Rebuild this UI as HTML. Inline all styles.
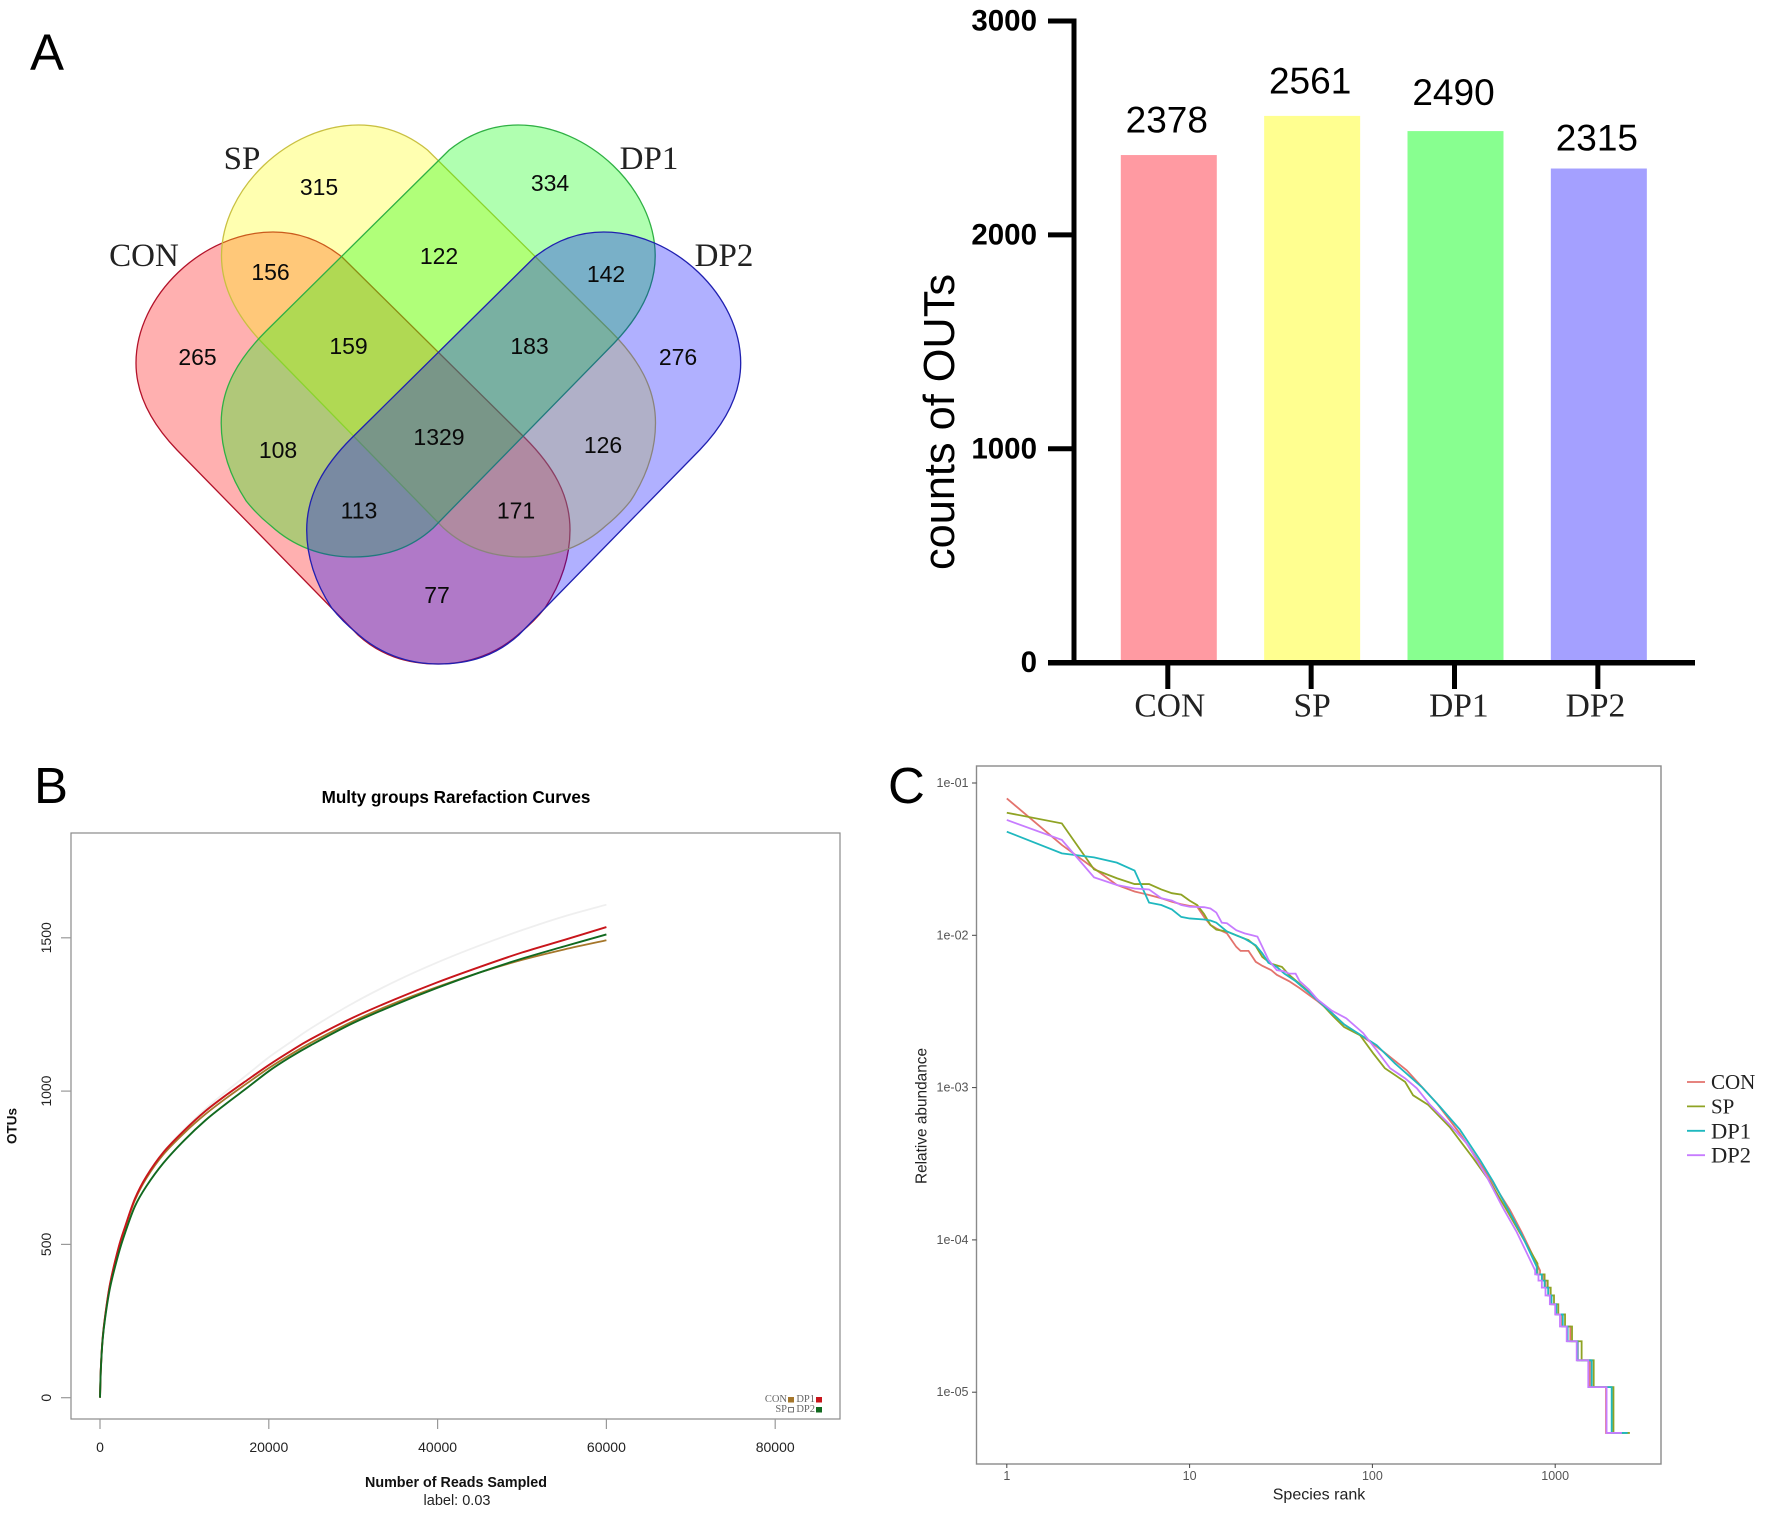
<!DOCTYPE html>
<html>
<head>
<meta charset="utf-8">
<title>OTU figure</title>
<style>
html,body{margin:0;padding:0;background:#fff;}
svg{display:block;}
text{font-family:"Liberation Sans",sans-serif;fill:#000;}
.serif{font-family:"Liberation Serif",serif;}
.venn-num{font-size:23px;text-anchor:middle;dominant-baseline:central;fill:#0a0a0a;}
.venn-set{font-family:"Liberation Serif",serif;font-size:33px;text-anchor:middle;dominant-baseline:central;fill:#222;}
.panel{font-size:51px;}
</style>
</head>
<body>
<svg id="fig" xmlns="http://www.w3.org/2000/svg" width="1772" height="1514" viewBox="0 0 1772 1514">
  <rect x="0" y="0" width="1772" height="1514" fill="#fff"/>

  <text class="panel" x="30" y="70">A</text>
  <text class="panel" x="34" y="803">B</text>
  <text class="panel" x="888" y="803">C</text>

  <g>
    <path fill="#ff0000" fill-opacity="0.31" stroke="#b3122a" stroke-width="1.3" d="M177,450 C153,425 136,396 136,363 C136,296 203,232 273,232 C300,232 322,241 342,257 L525,438 C553,466 570,495 570,530 C570,558 560,585 545,608 C537,618 530,625 520,633 C498,653 470,664 438,664 C406,664 380,655 358,635 Z"/>
    <path transform="translate(85.5,-107)" fill="#ffff00" fill-opacity="0.31" stroke="#c9c042" stroke-width="1.3" d="M177,450 C153,425 136,396 136,363 C136,296 203,232 273,232 C300,232 322,241 342,257 L525,438 C553,466 570,495 570,530 C570,558 560,585 545,608 C537,618 530,625 520,633 C498,653 470,664 438,664 C406,664 380,655 358,635 Z"/>
    <path transform="matrix(-1 0 0 1 791.2 -107)" fill="#00ff00" fill-opacity="0.31" stroke="#2fb044" stroke-width="1.3" d="M177,450 C153,425 136,396 136,363 C136,296 203,232 273,232 C300,232 322,241 342,257 L525,438 C553,466 570,495 570,530 C570,558 560,585 545,608 C537,618 530,625 520,633 C498,653 470,664 438,664 C406,664 380,655 358,635 Z"/>
    <path transform="matrix(-1 0 0 1 876.7 0)" fill="#0000ff" fill-opacity="0.31" stroke="#2020b0" stroke-width="1.3" d="M177,450 C153,425 136,396 136,363 C136,296 203,232 273,232 C300,232 322,241 342,257 L525,438 C553,466 570,495 570,530 C570,558 560,585 545,608 C537,618 530,625 520,633 C498,653 470,664 438,664 C406,664 380,655 358,635 Z"/>
    <text class="venn-set" x="242" y="159">SP</text>
    <text class="venn-set" x="649" y="159">DP1</text>
    <text class="venn-set" x="144" y="256">CON</text>
    <text class="venn-set" x="724" y="256">DP2</text>
    <text class="venn-num" x="319" y="187">315</text>
    <text class="venn-num" x="550" y="183">334</text>
    <text class="venn-num" x="270.5" y="272">156</text>
    <text class="venn-num" x="439" y="256">122</text>
    <text class="venn-num" x="606" y="274">142</text>
    <text class="venn-num" x="197.5" y="357">265</text>
    <text class="venn-num" x="348.5" y="346">159</text>
    <text class="venn-num" x="529.5" y="346">183</text>
    <text class="venn-num" x="678" y="357">276</text>
    <text class="venn-num" x="278" y="450">108</text>
    <text class="venn-num" x="439" y="437">1329</text>
    <text class="venn-num" x="603" y="445">126</text>
    <text class="venn-num" x="359" y="510.5">113</text>
    <text class="venn-num" x="516" y="510.5">171</text>
    <text class="venn-num" x="437" y="595">77</text>
  </g>

  <g id="bar-chart"></g>
  <g id="rare-chart"></g>
  <g id="rank-chart"></g>
</svg>

<script>
// ---------- Bar chart data ----------
const barCategories = ['CON', 'SP', 'DP1', 'DP2'];
const barValues = [2378, 2561, 2490, 2315];
const barTicks = [0, 1000, 2000, 3000];
const barColors = ['#ff9aa2', '#ffff90', '#88ff90', '#a4a0ff'];

// ---------- Rarefaction data ----------
const rareReads = [0, 100, 300, 600, 1200, 2200, 3000, 4150, 5500, 7500, 10000, 12500, 15000, 17500, 20000, 22500, 25000, 30000, 35000, 40000, 45000, 50000, 55000, 60000];
const rareSP = [0, 95, 190, 265, 373, 490, 560, 650, 723, 802, 876, 942, 1000, 1055, 1110, 1158, 1205, 1287, 1358, 1420, 1475, 1525, 1570, 1608];
const rareCON = [0, 94, 188, 263, 370, 487, 557, 645, 716, 793, 864, 925, 978, 1027, 1075, 1118, 1158, 1228, 1288, 1340, 1387, 1428, 1462, 1492];
const rareDP1 = [0, 95, 190, 265, 373, 490, 560, 650, 722, 800, 872, 935, 988, 1037, 1085, 1129, 1170, 1240, 1300, 1355, 1405, 1452, 1493, 1535];
const rareDP2 = [0, 92, 185, 258, 360, 470, 540, 625, 690, 765, 840, 905, 960, 1012, 1065, 1110, 1150, 1222, 1282, 1337, 1387, 1432, 1472, 1511];
const rareXTicks = [0, 20000, 40000, 60000, 80000];
const rareYTicks = [0, 500, 1000, 1500];

// ---------- Rank abundance data ----------
const rankXTicks = [1, 10, 100, 1000];
const rankYTicks = [1e-1, 1e-2, 1e-3, 1e-4, 1e-5];
const rankYLabels = ['1e-01', '1e-02', '1e-03', '1e-04', '1e-05'];

const conRanks = [1,2,3,4,5,6,7,8,9,10,11,12,13,14,16,18,19,21,23,25,28,30,35,40,50,60,70,100,115,154,225,301,422,566,656,826];
const conValues = [.0792,.0392,.0275,.0214,.0194,.0184,.0175,.0166,.0160,.0156,.0154,.0132,.0117,.0111,.0103,.0084,.0079,.0079,.0067,.0063,.0059,.0055,.0050,.0045,.0037,.0031,.0026,.00195,.00172,.0013,.00079,.0005,.000274,.000157,.000112,.000063];
const conStepRanks = [855, 885, 918, 950, 1010, 1090, 1210, 1330, 1549, 1897, 2378];

const spRanks = [1,2,3,4,5,6,7,8,9,10,11,12,13,14,16,18,20,21,23,25,28,32,35,40,50,60,70,85.5,101,117,151,167,202,265,356,440,543,656,800];
const spValues = [.0638,.0543,.0271,.0237,.0217,.0217,.0200,.0189,.0185,.0169,.0158,.0138,.0117,.0109,.0106,.0100,.0095,.0093,.0085,.0072,.0065,.0062,.0055,.0048,.0038,.0030,.0025,.00221,.00168,.00134,.00109,.00089,.00077,.00055,.000344,.000241,.000157,.000106,.00007];
const spStepRanks = [875, 910, 945, 985, 1040, 1132, 1236, 1395, 1624, 2083, 2561];

const dp1Ranks = [1,2,3,4,5,6,7,8,9,10,12,13,14,16,18,20,23,25,27,30,33,38,45,55,70,105.5,133,186,234,301,388,458,543,656,792];
const dp1Values = [.0479,.0345,.0325,.0300,.0266,.0164,.0158,.0148,.0132,.0129,.0127,.0125,.0121,.0106,.0100,.0095,.0086,.0076,.0066,.0062,.0056,.0050,.0042,.0034,.0026,.0019,.00144,.00101,.00075,.00053,.000335,.000241,.000165,.000108,.0000667];
const dp1StepRanks = [845, 875, 915, 955, 1015, 1100, 1170, 1325, 1584, 2037, 2490];

const dp2Ranks = [1,2,3,4,5,6,7,8,9,10,12,13,14,15,16,18,20,22,23.5,25,27,30,33,35,38,40,45,50,60,72,89,105,125,151,175,207,265,328,422,520,615,777];
const dp2Values = [.0572,.0423,.0240,.0214,.0203,.0200,.0175,.0169,.0158,.0154,.0153,.0150,.0141,.0121,.0120,.0108,.0103,.0100,.0098,.0084,.0069,.0059,.0058,.0056,.0056,.0050,.0044,.0038,.0032,.00285,.00228,.00177,.00134,.00115,.00099,.00077,.00057,.00043,.00026,.000161,.000113,.000063];
const dp2StepRanks = [810, 845, 885, 935, 1000, 1062, 1156, 1311, 1517, 1910, 2315];

const stepCounts = [11, 10, 9, 8, 7, 6, 5, 4, 3, 2, 1];
const singletonAbundance = 5.4e-6;

// ---------- helpers ----------
const NS = 'http://www.w3.org/2000/svg';
function make(parent, tag, props, txt) {
  const n = document.createElementNS(NS, tag);
  for (const k in props) n.setAttribute(k, props[k]);
  if (txt !== undefined) n.textContent = txt;
  parent.appendChild(n);
  return n;
}
function linePath(xs, ys, fx, fy) {
  return xs.map((v, i) => (i ? 'L' : 'M') + fx(v).toFixed(2) + ',' + fy(ys[i]).toFixed(2)).join(' ');
}
function smoothPath(xs, ys, fx, fy) {
  const p = xs.map((v, i) => [fx(v), fy(ys[i])]);
  let d = 'M' + p[0][0].toFixed(2) + ',' + p[0][1].toFixed(2);
  for (let i = 0; i < p.length - 1; i++) {
    const a = p[Math.max(i - 1, 0)], b = p[i], c = p[i + 1], e = p[Math.min(i + 2, p.length - 1)];
    const c1x = b[0] + (c[0] - a[0]) / 6, c1y = b[1] + (c[1] - a[1]) / 6;
    const c2x = c[0] - (e[0] - b[0]) / 6, c2y = c[1] - (e[1] - b[1]) / 6;
    d += ' C' + c1x.toFixed(2) + ',' + c1y.toFixed(2) + ' ' + c2x.toFixed(2) + ',' + c2y.toFixed(2) + ' ' + c[0].toFixed(2) + ',' + c[1].toFixed(2);
  }
  return d;
}

// ---------- Bar chart ----------
(function () {
  const g = document.getElementById('bar-chart');
  const y0 = 662.7, yTop = 21, yMax = 3000;
  const yScale = v => y0 - v * (y0 - yTop) / yMax;
  const bandStart = 1120.8, bandStep = 143.35, barW = 96;
  const xCenter = i => bandStart + i * bandStep + barW / 2;
  const labelNudgeY = {CON: 0, SP: 0, DP1: -3.4, DP2: 4.5};
  const catNudgeX = {CON: 1, SP: 0, DP1: 3.4, DP2: -3.4};

  barCategories.forEach((c, i) => {
    const top = yScale(barValues[i]);
    const bar = make(g, 'rect', {x: xCenter(i) - barW / 2, y: top + 1, width: barW, height: y0 - top - 1, fill: barColors[i]});
    
    
    const val = make(g, 'text', {x: xCenter(i) - 2, y: top - 34 + labelNudgeY[c], 'text-anchor': 'middle', 'dominant-baseline': 'central', 'font-size': 37}, barValues[i]);
    
    
    const tick = make(g, 'line', {x1: xCenter(i) - 1, x2: xCenter(i) - 1, y1: y0, y2: 689, stroke: '#000', 'stroke-width': 5});
    
    
    const lab = make(g, 'text', {x: xCenter(i) + catNudgeX[c], y: 706, 'text-anchor': 'middle', 'dominant-baseline': 'central', 'font-size': 33.5, 'class': 'serif', style: 'fill:#222'}, c);
    
    
  });

  barTicks.forEach(t => {
    const tick = make(g, 'line', {x1: 1048, x2: 1074, y1: yScale(t), y2: yScale(t), stroke: '#000', 'stroke-width': 5});
    
    
    const lab = make(g, 'text', {x: 1037, y: yScale(t), 'text-anchor': 'end', 'dominant-baseline': 'central', 'font-size': 29.5, 'font-weight': 'bold'}, t);
    
    
  });

  const yAxis = make(g, 'line', {x1: 1074, x2: 1074, y1: yTop - 2.5, y2: y0 + 2.5, stroke: '#000', 'stroke-width': 5});
  
  
  const xAxis = make(g, 'line', {x1: 1048, x2: 1695, y1: y0, y2: y0, stroke: '#000', 'stroke-width': 5.5});
  
  
  const title = make(g, 'text', {x: 0, y: 0, transform: 'translate(940,422) rotate(-90)', 'text-anchor': 'middle', 'dominant-baseline': 'central', 'font-size': 43.3}, 'counts of OUTs');
  
  
})();

// ---------- Rarefaction chart ----------
(function () {
  const g = document.getElementById('rare-chart');
  const x = v => 100 + v * 168.8 / 20000;
  const y = v => 1397.7 - v * 153.3 / 500;

  const t = make(g, 'text', {x: 456, y: 797.5, 'text-anchor': 'middle', 'dominant-baseline': 'central', 'font-size': 17.1, 'font-weight': 'bold', fill: '#111'}, 'Multy groups Rarefaction Curves');
  
  

  const frame = make(g, 'rect', {x: 71, y: 833, width: 769, height: 586, fill: 'none', stroke: '#8a8a8a', 'stroke-width': 1.2});
  
  

  rareXTicks.forEach(v => {
    const tk = make(g, 'line', {x1: x(v), x2: x(v), y1: 1419, y2: 1429, stroke: '#999', 'stroke-width': 1.2});
    
    
    const lb = make(g, 'text', {x: x(v), y: 1447, 'text-anchor': 'middle', 'dominant-baseline': 'central', 'font-size': 14, style: 'fill:#222'}, v);
    
    
  });
  rareYTicks.forEach(v => {
    const tk = make(g, 'line', {x1: 61, x2: 71, y1: y(v), y2: y(v), stroke: '#999', 'stroke-width': 1.2});
    
    
    const lb = make(g, 'text', {transform: 'translate(46,' + y(v) + ') rotate(-90)', 'text-anchor': 'middle', 'dominant-baseline': 'central', 'font-size': 14, style: 'fill:#222'}, v);
    
    
  });

  const xt = make(g, 'text', {x: 456, y: 1483, 'text-anchor': 'middle', 'dominant-baseline': 'central', 'font-size': 14.3, 'font-weight': 'bold', style: 'fill:#111'}, 'Number of Reads Sampled');
  
  
  const sub = make(g, 'text', {x: 457, y: 1501, 'text-anchor': 'middle', 'dominant-baseline': 'central', 'font-size': 14.5, style: 'fill:#222'}, 'label: 0.03');
  
  
  const yt = make(g, 'text', {transform: 'translate(12,1126) rotate(-90)', 'text-anchor': 'middle', 'dominant-baseline': 'central', 'font-size': 13.5, 'font-weight': 'bold', style: 'fill:#111'}, 'OTUs');
  
  

  const l1 = make(g, 'path', {d: smoothPath(rareReads, rareSP, x, y), fill: 'none', stroke: '#efefef', 'stroke-width': 1.8});
  
  
  const l2 = make(g, 'path', {d: smoothPath(rareReads, rareCON, x, y), fill: 'none', stroke: '#a5762a', 'stroke-width': 1.8});
  
  
  const l3 = make(g, 'path', {d: smoothPath(rareReads, rareDP1, x, y), fill: 'none', stroke: '#c8151b', 'stroke-width': 1.9});
  
  
  const l4 = make(g, 'path', {d: smoothPath(rareReads, rareDP2, x, y), fill: 'none', stroke: '#11691f', 'stroke-width': 1.9});
  
  

  const legend = make(g, 'g', {});
  
  
  const e1 = make(legend, 'text', {x: 787, y: 1399.5, 'text-anchor': 'end', 'dominant-baseline': 'central', 'font-size': 10.5, 'class': 'serif', style: 'fill:#666'}, 'CON');
  
  
  const s1 = make(legend, 'rect', {x: 788, y: 1397, width: 6, height: 5.5, fill: '#a5762a'});
  
  
  const e2 = make(legend, 'text', {x: 815, y: 1399.5, 'text-anchor': 'end', 'dominant-baseline': 'central', 'font-size': 10.5, 'class': 'serif', style: 'fill:#666'}, 'DP1');
  
  
  const s2 = make(legend, 'rect', {x: 816, y: 1397, width: 6, height: 5.5, fill: '#c8151b'});
  
  
  const e3 = make(legend, 'text', {x: 787, y: 1409.5, 'text-anchor': 'end', 'dominant-baseline': 'central', 'font-size': 10.5, 'class': 'serif', style: 'fill:#666'}, 'SP');
  
  
  const s3 = make(legend, 'rect', {x: 788.5, y: 1407.5, width: 5, height: 4.5, fill: '#fff', stroke: '#555', 'stroke-width': 0.8});
  
  
  const e4 = make(legend, 'text', {x: 815, y: 1409.5, 'text-anchor': 'end', 'dominant-baseline': 'central', 'font-size': 10.5, 'class': 'serif', style: 'fill:#666'}, 'DP2');
  
  
  const s4 = make(legend, 'rect', {x: 816, y: 1407, width: 6, height: 5.5, fill: '#11691f'});
  
  
})();

// ---------- Rank abundance chart ----------
(function () {
  const g = document.getElementById('rank-chart');
  const x = r => 1006.8 + Math.log10(r) * 182.8;
  const y = v => 783 + (-1 - Math.log10(v)) * 152.3;

  const frame = make(g, 'rect', {x: 976.5, y: 766, width: 684.5, height: 698, fill: 'none', stroke: '#8a8a8a', 'stroke-width': 1.4});
  
  

  rankXTicks.forEach(v => {
    const tk = make(g, 'line', {x1: x(v), x2: x(v), y1: 1464, y2: 1468, stroke: '#444', 'stroke-width': 1});
    
    
    const lb = make(g, 'text', {x: x(v), y: 1476, 'text-anchor': 'middle', 'dominant-baseline': 'central', 'font-size': 12.5, style: 'fill:#555'}, v);
    
    
  });
  rankYTicks.forEach((v, i) => {
    const tk = make(g, 'line', {x1: 972, x2: 976.5, y1: y(v), y2: y(v), stroke: '#444', 'stroke-width': 1});
    
    
    const lb = make(g, 'text', {x: 968.5, y: y(v), 'text-anchor': 'end', 'dominant-baseline': 'central', 'font-size': 12.5, style: 'fill:#555'}, rankYLabels[i]);
    
    
  });

  const xt = make(g, 'text', {x: 1319, y: 1495, 'text-anchor': 'middle', 'dominant-baseline': 'central', 'font-size': 16, style: 'fill:#222'}, 'Species rank');
  
  
  const yt = make(g, 'text', {transform: 'translate(922,1116) rotate(-90)', 'text-anchor': 'middle', 'dominant-baseline': 'central', 'font-size': 15.4, style: 'fill:#222'}, 'Relative abundance');
  
  

  // staircase tail: each drop rank ends one read-count level
  function withSteps(ranks, values, drops) {
    const xs = ranks.slice();
    const ys = values.slice();
    drops.forEach((r, i) => {
      const level = stepCounts[i] * singletonAbundance;
      xs.push(xs[xs.length - 1]);
      ys.push(level);
      xs.push(r);
      ys.push(level);
    });
    return {xs, ys};
  }

  const con = withSteps(conRanks, conValues, conStepRanks);
  const l1 = make(g, 'path', {d: linePath(con.xs, con.ys, x, y), fill: 'none', stroke: '#e3736d', 'stroke-width': 1.8});
  
  
  const sp = withSteps(spRanks, spValues, spStepRanks);
  const l2 = make(g, 'path', {d: linePath(sp.xs, sp.ys, x, y), fill: 'none', stroke: '#8fa324', 'stroke-width': 1.8});
  
  
  const dp1 = withSteps(dp1Ranks, dp1Values, dp1StepRanks);
  const l3 = make(g, 'path', {d: linePath(dp1.xs, dp1.ys, x, y), fill: 'none', stroke: '#1fb8bf', 'stroke-width': 1.8});
  
  
  const dp2 = withSteps(dp2Ranks, dp2Values, dp2StepRanks);
  const l4 = make(g, 'path', {d: linePath(dp2.xs, dp2.ys, x, y), fill: 'none', stroke: '#c77cff', 'stroke-width': 1.8});
  
  

  const legend = make(g, 'g', {});
  
  
  const legendNames = ['CON', 'SP', 'DP1', 'DP2'];
  const legendColors = ['#e3736d', '#8fa324', '#1fb8bf', '#c77cff'];
  const legendSizes = [21, 21, 22.5, 22.5];
  legendNames.forEach((n, i) => {
    const ly = 1082 + i * 24.4;
    const key = make(legend, 'line', {x1: 1687, x2: 1705, y1: ly, y2: ly, stroke: legendColors[i], 'stroke-width': 1.8});
    
    
    const lb = make(legend, 'text', {x: 1711, y: ly, 'dominant-baseline': 'central', 'font-size': legendSizes[i], 'class': 'serif', style: 'fill:#222'}, n);
    
    
  });
})();
</script>
</body>
</html>
